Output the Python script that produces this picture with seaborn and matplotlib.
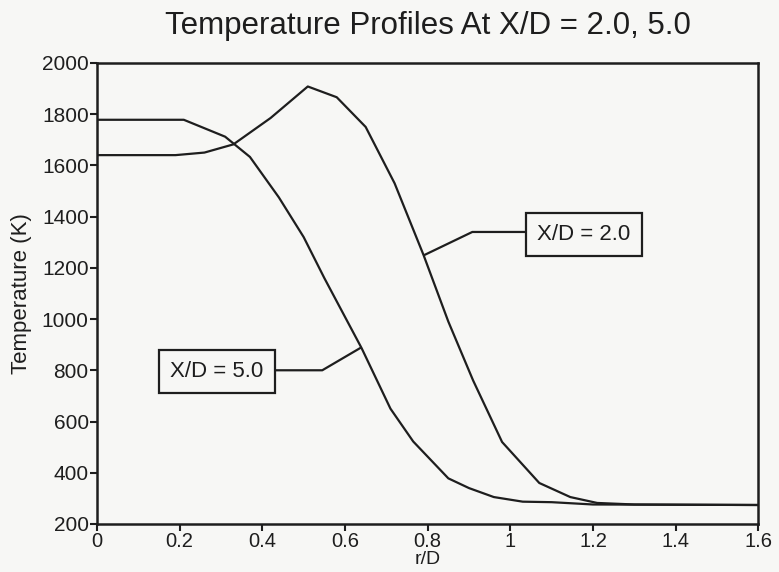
import matplotlib
matplotlib.use("Agg")
import matplotlib.pyplot as plt
import seaborn as sns
import pandas as pd

# X/D = 2.0 profile
r_xd2 = [0.0, 0.19, 0.26, 0.33, 0.42, 0.51, 0.58, 0.65, 0.72, 0.79, 0.85, 0.91, 0.98, 1.07, 1.145, 1.21, 1.3, 1.6]
t_xd2 = [1640, 1640, 1650, 1682, 1785, 1908, 1866, 1750, 1530, 1250, 990, 760, 520, 360, 305, 282, 276, 274]

# X/D = 5.0 profile
r_xd5 = [0.0, 0.21, 0.31, 0.37, 0.44, 0.50, 0.55, 0.64, 0.71, 0.765, 0.85, 0.90, 0.96, 1.03, 1.10, 1.2, 1.6]
t_xd5 = [1778, 1778, 1712, 1633, 1475, 1320, 1160, 887, 650, 522, 378, 340, 305, 287, 285, 276, 274]

series_labels = ["X/D = 2.0", "X/D = 5.0"]
x_ticks = [0, 0.2, 0.4, 0.6, 0.8, 1, 1.2, 1.4, 1.6]
x_tick_labels = ["0", "0.2", "0.4", "0.6", "0.8", "1", "1.2", "1.4", "1.6"]
y_ticks = [200, 400, 600, 800, 1000, 1200, 1400, 1600, 1800, 2000]

df = pd.concat([
    pd.DataFrame({"r": r_xd2, "T": t_xd2, "series": series_labels[0]}),
    pd.DataFrame({"r": r_xd5, "T": t_xd5, "series": series_labels[1]}),
])

sns.set_style("ticks")
plt.rcParams["font.family"] = ["Liberation Sans", "DejaVu Sans"]

ink = "#1e1e1e"
bg = "#f7f7f5"
fig = plt.figure(figsize=(7.79, 5.72), dpi=100, facecolor=bg)
ax = fig.add_axes([0.1245, 0.084, 0.849, 0.806])
ax.set_facecolor(bg)

sns.lineplot(data=df, x="r", y="T", hue="series", palette=[ink, ink],
             linewidth=1.6, legend=False, ax=ax, sort=False)

ax.set_xlim(0, 1.6)
ax.set_ylim(200, 2000)
ax.set_xticks(x_ticks)
ax.set_xticklabels(x_tick_labels)
ax.set_yticks(y_ticks)
ax.tick_params(direction="out", length=5, width=1.5, labelsize=15, pad=1, color=ink, labelcolor=ink)
ax.tick_params(axis="x", labelsize=14.5, pad=0.5)
for s in ax.spines.values():
    s.set_visible(True)
    s.set_linewidth(1.8)
    s.set_color(ink)

ax.set_xlabel("r/D", fontsize=14, color=ink)
ax.xaxis.set_label_coords(0.5, -0.058)
ax.set_ylabel("Temperature (K)", fontsize=16, color=ink)
ax.yaxis.set_label_coords(-0.098, 0.5)
fig.text(0.549, 0.955, "Temperature Profiles At X/D = 2.0, 5.0", fontsize=22.5,
         ha="center", va="center", color=ink)

box = dict(boxstyle="square,pad=0.5", fc=bg, ec=ink, lw=1.6)
# X/D = 2.0 annotation
ax.plot([0.792, 0.908, 1.10], [1250, 1340, 1340], color=ink, lw=1.6, zorder=3)
ax.text(1.178, 1330, series_labels[0], fontsize=16, ha="center", va="center",
        bbox=box, color=ink, zorder=4)
# X/D = 5.0 annotation
ax.plot([0.637, 0.545, 0.35], [887, 800, 800], color=ink, lw=1.6, zorder=3)
ax.text(0.2906, 796, series_labels[1], fontsize=16, ha="center", va="center",
        bbox=box, color=ink, zorder=4)

fig.savefig("out.png", dpi=100, facecolor=bg)
